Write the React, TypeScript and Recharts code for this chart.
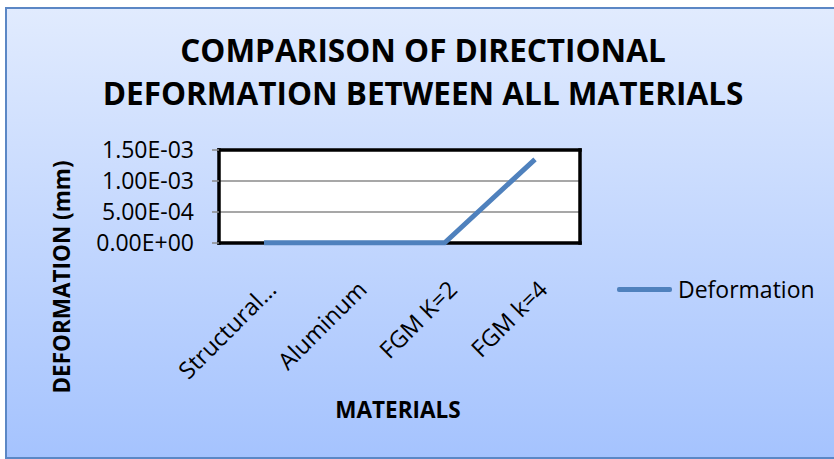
import React from "react";
import { LineChart, Line, XAxis, YAxis, CartesianGrid, Legend } from "recharts";

const materials = ["Structural...", "Aluminum", "FGM K=2", "FGM k=4"];
const deformation = [0.000004, 0.000003, 0.000003, 0.00135];
const yTicks = [0, 0.0005, 0.001, 0.0015];
const yTickLabels = ["0.00E+00", "5.00E-04", "1.00E-03", "1.50E-03"];

const data = materials.map((name, i) => ({ name, Deformation: deformation[i] }));

const FONT = "'Open Sans', sans-serif";
const BLUE = "#4f81bd";

const YTick = (props: any) => {
  const { x, y, payload } = props;
  const i = yTicks.indexOf(payload.value);
  return (
    <text x={x} y={y} dy="0.36em" textAnchor="end" fontSize={23} fill="#000">
      {yTickLabels[i]}
    </text>
  );
};

const XTick = (props: any) => {
  const { x, y, payload } = props;
  return (
    <g transform={`translate(${x + 14},${y + 48})`}>
      <text textAnchor="end" transform="rotate(-45)" fontSize={23.5} fill="#000">
        {payload.value}
      </text>
    </g>
  );
};

const LegendBox = () => (
  <div style={{ display: "flex", alignItems: "center", fontFamily: FONT }}>
    <div style={{ width: 55, height: 4.5, background: BLUE, borderRadius: 2 }} />
    <span style={{ marginLeft: 6, fontSize: 23, lineHeight: "23px", color: "#000" }}>
      Deformation
    </span>
  </div>
);

// plot-area frame: outer edges only
const frameRows = (p: any) => {
  const o = p.offset || {};
  return [o.top, o.top + o.height];
};
const frameCols = (p: any) => {
  const o = p.offset || {};
  return [o.left, o.left + o.width];
};

export default function App() {
  return (
    <div
      style={{
        position: "absolute",
        left: 0,
        top: 0,
        width: 834,
        height: 459,
        overflow: "hidden",
        fontFamily: FONT,
        background: "#fff",
      }}
    >
      <div
        style={{
          position: "absolute",
          left: 5,
          top: 7,
          width: 840,
          height: 448,
          border: "2px solid #5b87c5",
          background: "linear-gradient(to bottom, #e1ebfe, #a5c3fe)",
        }}
      />
      <div
        style={{
          position: "absolute",
          left: 0,
          top: 28,
          width: 846,
          textAlign: "center",
          fontSize: 31.5,
          fontWeight: 700,
          lineHeight: "43px",
          color: "#000",
        }}
      >
        COMPARISON OF DIRECTIONAL
        <br />
        DEFORMATION BETWEEN ALL MATERIALS
      </div>
      <div
        style={{
          position: "absolute",
          left: 62,
          top: 277,
          transform: "translate(-50%, -50%) rotate(-90deg)",
          whiteSpace: "nowrap",
          fontSize: 22.5,
          fontWeight: 700,
          lineHeight: "22px",
        }}
      >
        DEFORMATION (mm)
      </div>
      <div
        style={{
          position: "absolute",
          left: 398,
          top: 410,
          transform: "translate(-50%, -50%)",
          whiteSpace: "nowrap",
          fontSize: 22.5,
          fontWeight: 700,
          lineHeight: "22px",
        }}
      >
        MATERIALS
      </div>
      <LineChart
        width={834}
        height={459}
        data={data}
        margin={{ top: 150, right: 254, bottom: 0, left: 0 }}
        style={{ position: "absolute", left: 0, top: 0 }}
      >
        <CartesianGrid
          vertical={false}
          stroke="#8a8a8a"
          strokeWidth={1.5}
          fill="#fff"
          fillOpacity={1}
        />
        <CartesianGrid
          stroke="#000"
          strokeWidth={3.5}
          strokeLinecap="square"
          horizontalCoordinatesGenerator={frameRows}
          verticalCoordinatesGenerator={frameCols}
        />
        <XAxis
          dataKey="name"
          height={216}
          interval={0}
          padding={{ left: 45, right: 45 }}
          axisLine={false}
          tickLine={false}
          tickSize={0}
          tickMargin={0}
          tick={<XTick />}
        />
        <YAxis
          width={219}
          domain={[0, 0.0015]}
          ticks={yTicks}
          interval={0}
          axisLine={false}
          tickLine={{ stroke: "#8a8a8a", strokeWidth: 1.5 }}
          tickSize={7}
          tickMargin={18}
          tick={<YTick />}
        />
        <Legend
          layout="horizontal"
          align="center"
          verticalAlign="middle"
          content={<LegendBox />}
          wrapperStyle={{ left: 617, top: 278, right: "auto", bottom: "auto", width: 215 }}
        />
        <Line
          type="linear"
          dataKey="Deformation"
          stroke={BLUE}
          strokeWidth={5}
          dot={false}
          activeDot={false}
          isAnimationActive={false}
        />
      </LineChart>
    </div>
  );
}
